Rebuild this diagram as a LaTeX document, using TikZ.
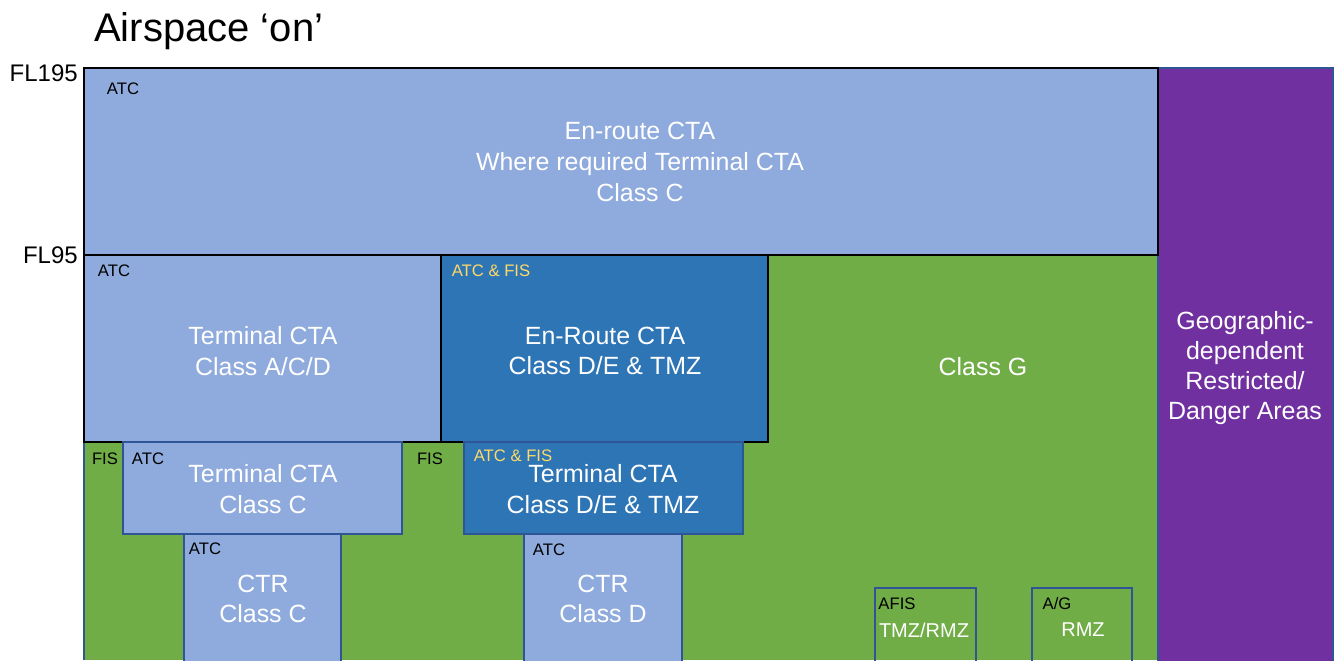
\documentclass[tikz,border=0pt]{standalone}
\usepackage{fontspec}
\setmainfont{Liberation Sans}
\definecolor{lblue}{HTML}{8FAADC}
\definecolor{dblue}{HTML}{2E75B6}
\definecolor{grn}{HTML}{70AD47}
\definecolor{purp}{HTML}{7030A0}
\definecolor{edgeb}{HTML}{2F5597}
\definecolor{ylw}{HTML}{FFD966}
\tikzset{
  big/.style={font=\fontsize{18.7}{23}\selectfont, text=white, align=center, inner sep=0pt},
  small/.style={font=\fontsize{12.5}{14}\selectfont, text=black, inner sep=0pt},
  smally/.style={small, text=ylw},
  fl/.style={font=\fontsize{18}{21}\selectfont, anchor=east, inner sep=0pt},
  blk/.style={draw=black, line width=1.5pt},
  blu/.style={draw=edgeb, line width=0.9pt},
}
\begin{document}
\begin{tikzpicture}[x=0.75pt,y=-0.75pt]
\useasboundingbox (0,0) rectangle (1341,660);
% title
\node[font=\fontsize{30}{36}\selectfont, anchor=west, inner sep=0pt] (title) at (94,31) {Airspace ‘on’};
% green background
\fill[grn] (84,255) rectangle (1158,660);
\draw[blu] (84,660) -- (84,255);
% purple
\fill[purp, blu] (1158,68) rectangle (1333,662);
% top box
\fill[lblue, blk] (84,68) rectangle (1158,255);
% terminal A/C/D
\fill[lblue, blk] (84,255) rectangle (441,442);
% en-route D/E
\fill[dblue, blk] (441,255) rectangle (768,442);
% terminal class C
\fill[lblue, blu] (123,442) rectangle (402,534);
% terminal D/E
\fill[dblue, blu] (464,442) rectangle (743,534);
% CTR C
\fill[lblue, blu] (184,534) rectangle (341,662);
% CTR D
\fill[lblue, blu] (524,534) rectangle (682,662);
% AFIS
\draw[blu] (875,662) -- (875,588) -- (976,588) -- (976,662);
% A/G
\draw[blu] (1032,662) -- (1032,588) -- (1132,588) -- (1132,662);

% FL labels
\node[fl] (fl195) at (78,73) {FL195};
\node[fl] (fl95) at (78,255) {FL95};

% texts
\node[small] (atc1) at (123,89) {ATC};
\node[big] (enroute) at (640,162) {En-route CTA\\Where required Terminal CTA\\Class C};

\node[small] (atc2) at (114,271) {ATC};
\node[big] (termacd) at (263,351) {Terminal CTA\\Class A/C/D};

\node[smally] (atcfis1) at (491,271) {ATC \& FIS};
\node[big] (erde) at (605,351) {En-Route CTA\\Class D/E \& TMZ};

\node[big] (classg) at (983,367) {Class G};

\node[big, font=\fontsize{18.7}{22.5}\selectfont] (geo) at (1245,368) {Geographic-\\dependent\\Restricted/\\Danger Areas};

\node[small] (fis1) at (105,459) {FIS};
\node[small] (atc3) at (148,459) {ATC};
\node[big] (termc) at (263,489) {Terminal CTA\\Class C};

\node[small] (fis2) at (430,459) {FIS};
\node[smally] (atcfis2) at (513,456) {ATC \& FIS};
\node[big] (termde) at (603,489) {Terminal CTA\\Class D/E \& TMZ};

\node[small] (atc4) at (205,549) {ATC};
\node[big] (ctrc) at (263,599) {CTR\\Class C};

\node[small] (atc5) at (549,550) {ATC};
\node[big] (ctrd) at (603,599) {CTR\\Class D};

\node[small] (afis) at (897,604) {AFIS};
\node[big, font=\fontsize{15}{18}\selectfont] (tmzrmz) at (924,630) {TMZ/RMZ};

\node[small] (ag) at (1057,604) {A/G};
\node[big, font=\fontsize{15}{18}\selectfont] (rmz) at (1083,630) {RMZ};
\end{tikzpicture}
\end{document}
